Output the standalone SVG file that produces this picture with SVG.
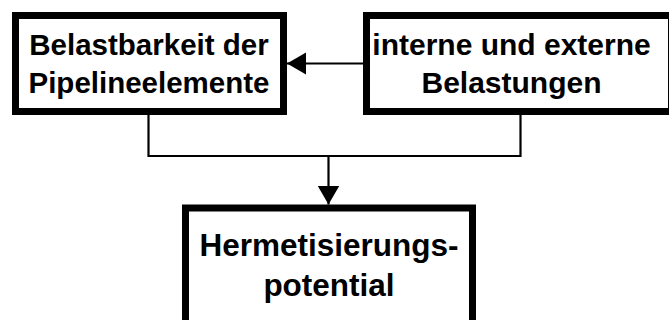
<svg xmlns="http://www.w3.org/2000/svg" width="669" height="320" viewBox="0 0 669 320">
<style>
.box{fill:#fff;stroke:#000;stroke-width:7}
.lbl{font-family:"Liberation Sans",Arial,sans-serif;font-weight:bold;fill:#000;text-anchor:middle}
.con{fill:none;stroke:#000;stroke-width:2.2}
</style>
<defs>
<marker id="ah" markerUnits="userSpaceOnUse" markerWidth="20" markerHeight="24" refX="19" refY="11" orient="auto">
<path d="M0,0 L19,11 L0,22 Z" fill="#000"/>
</marker>
</defs>
<rect width="669" height="320" fill="#fff"/>
<g id="connectors">
<line class="con" x1="366" y1="63.5" x2="287" y2="63.5" marker-end="url(#ah)"/>
<polyline class="con" points="148.5,114 148.5,156 520.5,156 520.5,114"/>
<line class="con" x1="328.5" y1="156" x2="328.5" y2="204.5" marker-end="url(#ah)"/>
</g>
<g id="node-belastbarkeit">
<rect class="box" x="15.5" y="15.5" width="268" height="96"/>
<text class="lbl" x="149" y="55" font-size="29.5">Belastbarkeit der</text>
<text class="lbl" x="149" y="93" font-size="29.5">Pipelineelemente</text>
</g>
<g id="node-belastungen">
<rect class="box" x="366.5" y="15.5" width="305" height="96"/>
<text class="lbl" x="511.5" y="55" font-size="30">interne und externe</text>
<text class="lbl" x="511.5" y="93" font-size="30">Belastungen</text>
</g>
<g id="node-hermetisierung">
<rect class="box" x="185.5" y="208" width="287" height="130"/>
<text class="lbl" x="329" y="256" font-size="31.5">Hermetisierungs-</text>
<text class="lbl" x="329" y="296" font-size="31.5">potential</text>
</g>
</svg>
